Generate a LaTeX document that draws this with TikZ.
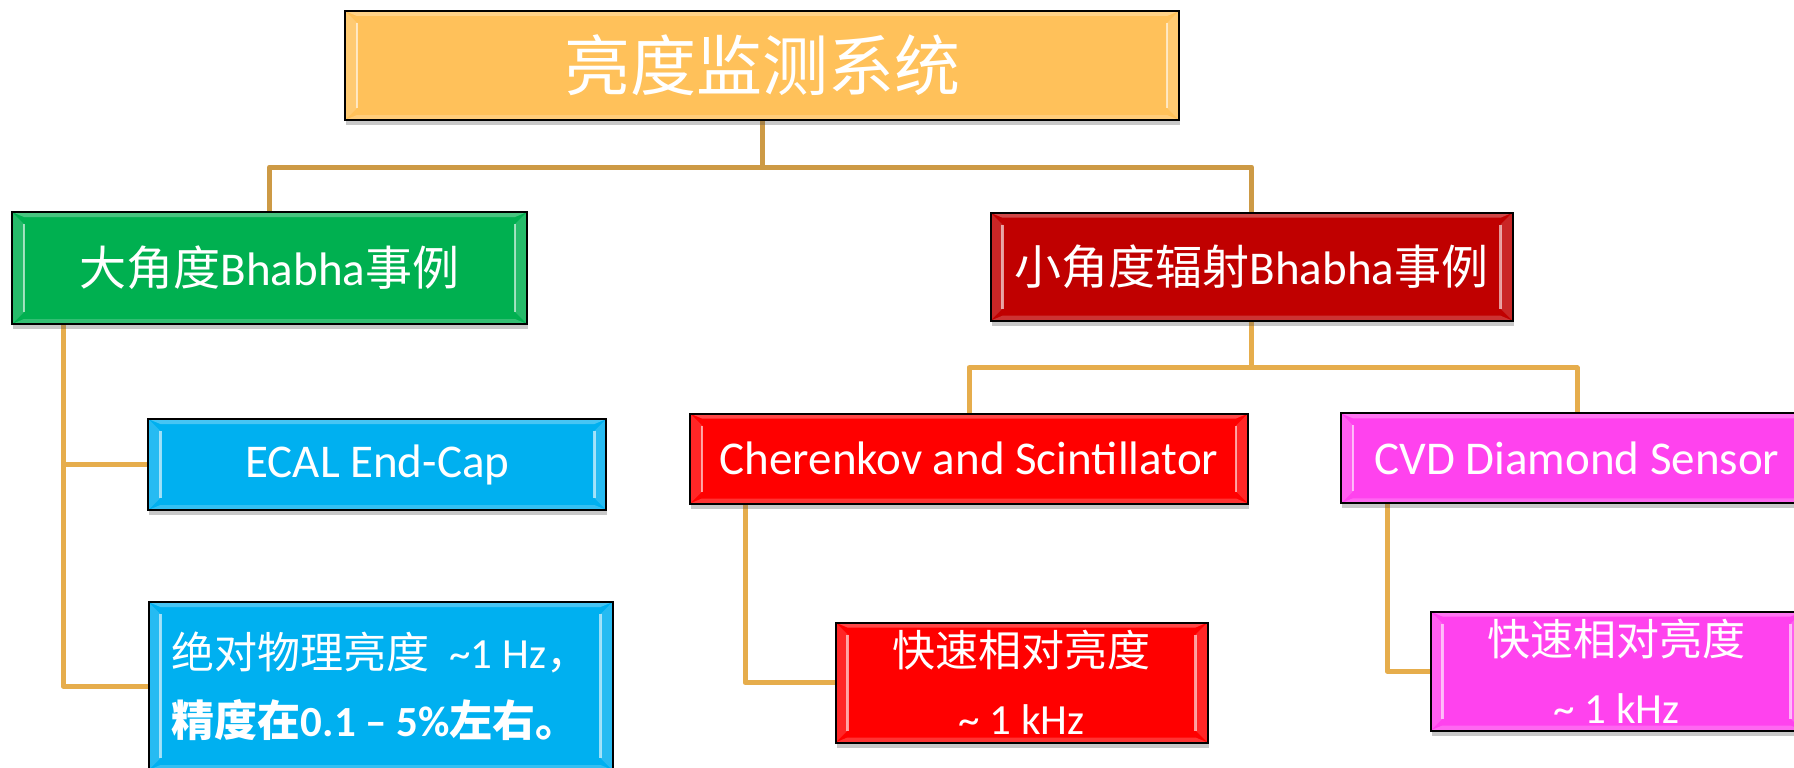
\documentclass[tikz,border=0pt]{standalone}
\usepackage{fontspec}
\setmainfont{Carlito}
\newfontfamily\cjk{Noto Sans CJK SC}
\usetikzlibrary{shadows,calc,backgrounds}
\definecolor{cOrange}{HTML}{FFC15A}
\definecolor{cGreen}{HTML}{00B050}
\definecolor{cDarkRed}{HTML}{C00000}
\definecolor{cCyan}{HTML}{00B0F0}
\definecolor{cRed}{HTML}{FF0000}
\definecolor{cMagenta}{HTML}{FF42EE}
\definecolor{cLineA}{HTML}{CD9A45}
\definecolor{cLineB}{HTML}{E6AD4C}
\tikzset{
  box/.style={draw=black, line width=2pt, fill=#1, text=white, inner sep=0pt, anchor=center,
    drop shadow={shadow xshift=1pt, shadow yshift=-5pt, opacity=0.3, fill=black!70},
    path picture={
      \path (path picture bounding box.north west) coordinate (pNW)
            (path picture bounding box.north east) coordinate (pNE)
            (path picture bounding box.south west) coordinate (pSW)
            (path picture bounding box.south east) coordinate (pSE);
      \fill[white, opacity=0.28] (pNW) -- (pNE) -- ($(pNE)+(-12,5)$) -- ($(pNW)+(12,5)$) -- cycle;
      \fill[white, opacity=0.2] (pSW) -- (pSE) -- ($(pSE)+(-12,-5)$) -- ($(pSW)+(12,-5)$) -- cycle;
      \fill[white, opacity=0.15] (pNW) -- ($(pNW)+(12,12)$) -- ($(pSW)+(12,-12)$) -- (pSW) -- cycle;
      \fill[white, opacity=0.15] (pNE) -- ($(pNE)+(-12,12)$) -- ($(pSE)+(-12,-12)$) -- (pSE) -- cycle;
      \draw[white, opacity=0.6, line width=2.5pt] ($(pNW)+(12,12)$) -- ($(pSW)+(12,-12)$);
      \draw[white, opacity=0.6, line width=2.5pt] ($(pNE)+(-12,12)$) -- ($(pSE)+(-12,-12)$);
    }},
  bigtext/.style={font=\fontsize{47}{52}\selectfont},
  smalltext/.style={font=\fontsize{43}{68}\selectfont},
  connA/.style={draw=cLineA, line width=5pt, line join=round},
  connB/.style={draw=cLineB, line width=5pt, line join=round},
}
\begin{document}
\begin{tikzpicture}[x=1pt, y=-1pt]
\path[use as bounding box, clip] (0,0) rectangle (1794,768);

\node[box=cOrange, minimum width=834, minimum height=109, font=\cjk\fontsize{66}{72}\selectfont] (top) at (762,65.5) {亮度监测系统};

\node[box=cGreen, bigtext, minimum width=515, minimum height=112] (L1) at (269.5,268) {{\cjk 大角度}Bhabha{\cjk 事例}};
\node[box=cDarkRed, bigtext, minimum width=522, minimum height=108] (R1) at (1251.5,266.7) {{\cjk 小角度辐射}Bhabha{\cjk 事例}};

\node[box=cCyan, bigtext, minimum width=458, minimum height=91] (E) at (377.4,464.5) {ECAL End-Cap};
\node[box=cCyan, smalltext, minimum width=464, minimum height=168, align=left] (A) at (380.5,686) {{\cjk 绝对物理亮度}\ \ \textasciitilde1 Hz{\cjk ，}\\ \bfseries{\cjk 精度在}0.1 – 5\%{\cjk 左右。}};

\node[box=cRed, bigtext, minimum width=558, minimum height=90] (CH) at (969,458.5) {Cherenkov and Scintillator};
\node[box=cMagenta, bigtext, minimum width=472, minimum height=90] (CVD) at (1577,458.3) {CVD Diamond Sensor};

\node[box=cRed, smalltext, minimum width=372, minimum height=120, align=center] (S1) at (1021.5,682.5) {{\cjk 快速相对亮度}\\\textasciitilde\ 1 kHz};
\node[box=cMagenta, smalltext, minimum width=372, minimum height=119, align=center] (S2) at (1616.5,671) {{\cjk 快速相对亮度}\\\textasciitilde\ 1 kHz};

\begin{scope}[on background layer]
  \fill[white] (0,0) rectangle (1794,768);
  \coordinate (j1) at ($(top.south)+(0,46)$);
  \draw[connA] (top.south) -- (j1) -| (L1.north);
  \draw[connA] (j1) -| (R1.north);
  \draw[connB] ([xshift=52pt]L1.south west) |- (E.west);
  \draw[connB] ([xshift=52pt]L1.south west) |- (A.west);
  \coordinate (j2) at ($(R1.south)+(0,46)$);
  \draw[connB] (R1.south) -- (j2) -| (CH.north);
  \draw[connB] (j2) -| (CVD.north);
  \draw[connB] ([xshift=56pt]CH.south west) |- (S1.west);
  \draw[connB] ([xshift=47pt]CVD.south west) |- (S2.west);
\end{scope}
\end{tikzpicture}
\end{document}
